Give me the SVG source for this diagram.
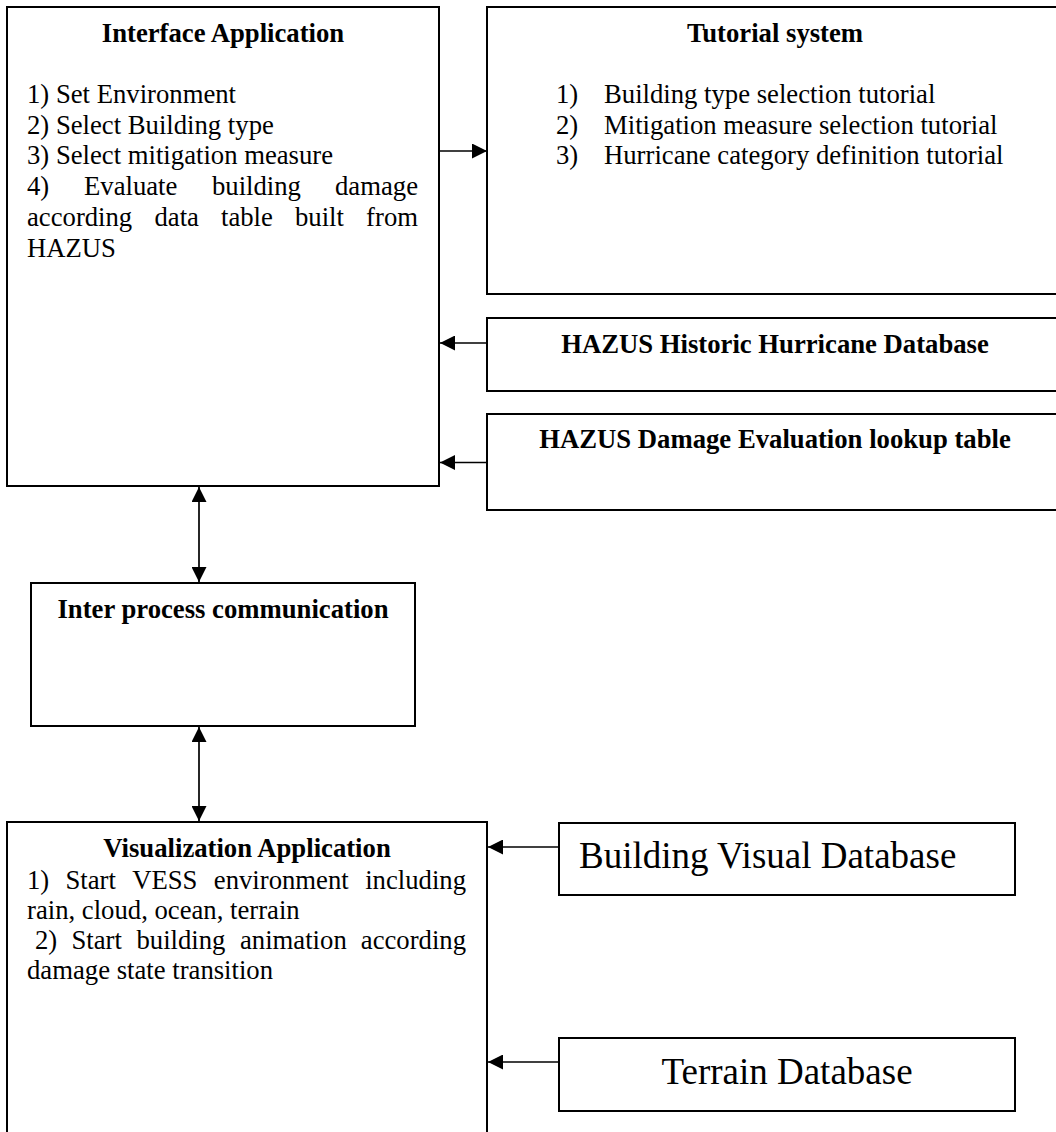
<svg xmlns="http://www.w3.org/2000/svg" width="1056" height="1132" viewBox="0 0 1056 1132">
<style>
  .box { fill: #ffffff; stroke: #000000; stroke-width: 2; }
  .t { font-family: "Liberation Serif", "Times New Roman", serif; font-size: 26.7px; fill: #000000; }
  .b { font-weight: bold; }
  .big { font-size: 37px; }
  .c { text-anchor: middle; }
  .e { text-anchor: end; }
  .conn { stroke: #000000; stroke-width: 1.7; fill: none; }
</style>
<defs>
  <marker id="ah" markerUnits="userSpaceOnUse" markerWidth="15" markerHeight="15" refX="15" refY="7.5" orient="auto-start-reverse" viewBox="0 0 15 15">
    <path d="M0,0 L15,7.5 L0,15 Z" fill="#000000"/>
  </marker>
</defs>
<rect width="1056" height="1132" fill="#ffffff"/>

<g id="interface-application">
  <rect class="box" x="7" y="7" width="432" height="479"/>
  <text class="t b c" x="223" y="42">Interface Application</text>
  <text class="t" x="27" y="103">1) Set Environment</text>
  <text class="t" x="27" y="133.7">2) Select Building type</text>
  <text class="t" x="27" y="164.4">3) Select mitigation measure</text>
  <text class="t" y="195"><tspan x="27">4)</tspan><tspan x="84">Evaluate</tspan><tspan x="212">building</tspan><tspan class="e" x="418">damage</tspan></text>
  <text class="t" y="225.8"><tspan x="27">according</tspan><tspan x="154.5">data</tspan><tspan x="221">table</tspan><tspan x="295">built</tspan><tspan class="e" x="418">from</tspan></text>
  <text class="t" x="27" y="256.5">HAZUS</text>
</g>

<g id="tutorial-system">
  <rect class="box" x="487" y="7" width="580" height="287"/>
  <text class="t b c" x="775" y="42">Tutorial system</text>
  <text class="t" y="103"><tspan x="556">1)</tspan><tspan x="604">Building type selection tutorial</tspan></text>
  <text class="t" y="133.7"><tspan x="556">2)</tspan><tspan x="604">Mitigation measure selection tutorial</tspan></text>
  <text class="t" y="164.4"><tspan x="556">3)</tspan><tspan x="604">Hurricane category definition tutorial</tspan></text>
</g>

<g id="hazus-historic-hurricane-database">
  <rect class="box" x="487" y="318" width="580" height="73"/>
  <text class="t b c" x="775" y="353">HAZUS Historic Hurricane Database</text>
</g>

<g id="hazus-damage-evaluation-lookup-table">
  <rect class="box" x="487" y="414" width="580" height="96"/>
  <text class="t b c" x="775" y="448">HAZUS Damage Evaluation lookup table</text>
</g>

<g id="inter-process-communication">
  <rect class="box" x="31" y="583" width="384" height="143"/>
  <text class="t b c" x="223" y="618">Inter process communication</text>
</g>

<g id="visualization-application">
  <rect class="box" x="7" y="822" width="480" height="340"/>
  <text class="t b c" x="247" y="857">Visualization Application</text>
  <text class="t" y="889"><tspan x="27">1)</tspan><tspan x="65.5">Start</tspan><tspan x="132.2">VESS</tspan><tspan x="213.8">environment</tspan><tspan class="e" x="466">including</tspan></text>
  <text class="t" x="27" y="919">rain, cloud, ocean, terrain</text>
  <text class="t" y="949"><tspan x="35">2)</tspan><tspan x="71.5">Start</tspan><tspan x="136.5">building</tspan><tspan x="240">animation</tspan><tspan class="e" x="466">according</tspan></text>
  <text class="t" x="27" y="979">damage state transition</text>
</g>

<g id="building-visual-database">
  <rect class="box" x="559" y="823" width="456" height="72"/>
  <text class="t big" x="579" y="868">Building Visual Database</text>
</g>

<g id="terrain-database">
  <rect class="box" x="559" y="1038" width="456" height="73"/>
  <text class="t big c" x="787" y="1084">Terrain Database</text>
</g>

<g id="connectors">
  <line class="conn" x1="439" y1="151" x2="487" y2="151" marker-end="url(#ah)"/>
  <line class="conn" x1="487" y1="343" x2="440" y2="343" marker-end="url(#ah)"/>
  <line class="conn" x1="487" y1="462.5" x2="440" y2="462.5" marker-end="url(#ah)"/>
  <line class="conn" x1="199" y1="487" x2="199" y2="582" marker-start="url(#ah)" marker-end="url(#ah)"/>
  <line class="conn" x1="199" y1="727" x2="199" y2="821" marker-start="url(#ah)" marker-end="url(#ah)"/>
  <line class="conn" x1="559" y1="847" x2="488" y2="847" marker-end="url(#ah)"/>
  <line class="conn" x1="559" y1="1062" x2="488" y2="1062" marker-end="url(#ah)"/>
</g>
</svg>
